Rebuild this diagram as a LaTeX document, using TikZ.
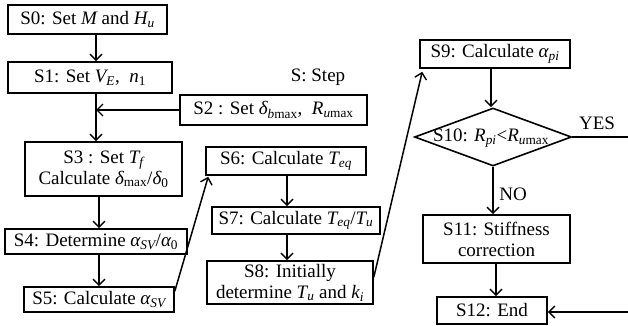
\documentclass[tikz,border=0pt]{standalone}
\usepackage{fontspec}
\setmainfont{Liberation Serif}
\newfontfamily\timesf{Liberation Serif}
\usetikzlibrary{arrows.meta,shapes.geometric,calc}
\newcommand\mysb[1]{\textsubscript{\itshape #1}}
\newcommand\myit[1]{{\itshape #1}}
\begin{document}
\begin{tikzpicture}[x=1pt,y=-1pt,
  box/.style={draw, line width=1.6pt, inner sep=1pt, align=center,
    font=\timesf\fontsize{19}{21}\selectfont},
  lbl/.style={inner sep=0pt, font=\timesf\fontsize{19}{21}\selectfont},
  arr/.style={line width=1.5pt, -{Straight Barb[length=6pt,width=12pt,line width=1.4pt]}},
  ln/.style={line width=1.5pt}]
\useasboundingbox (0,0) rectangle (628,326);
% nodes
\node[box, minimum width=159pt, minimum height=29pt] (s0) at (87.5,19.5) {S0: Set \myit{M} and \myit{H}\mysb{u}};
\node[box, minimum width=164pt, minimum height=31pt] (s1) at (90,77.5) {S1: Set \myit{V}\mysb{E},\ \ \myit{n}\textsubscript{1}};
\node[box, minimum width=187pt, minimum height=30pt] (s2) at (273.5,110) {S2 : Set \myit{δ}\textsubscript{\itshape b\upshape max},\ \ \myit{R}\textsubscript{\itshape u\upshape max}};
\node[box, minimum width=157pt, minimum height=54pt] (s3) at (103.5,169) {S3 : Set \myit{T}\mysb{f}\\Calculate \myit{δ}\textsubscript{max}/\myit{δ}\textsubscript{0}};
\node[box, minimum width=182pt, minimum height=25pt] (s4) at (96,241.5) {S4: Determine \myit{α}\mysb{SV}/\myit{α}\textsubscript{0}};
\node[box, minimum width=150pt, minimum height=25pt] (s5) at (99,299.5) {S5: Calculate \myit{α}\mysb{SV}};
\node[box, minimum width=160pt, minimum height=28pt] (s6) at (286,161) {S6: Calculate \myit{T}\mysb{eq}};
\node[box, minimum width=168pt, minimum height=27pt] (s7) at (296,220.5) {S7: Calculate \myit{T}\mysb{eq}/\myit{T}\mysb{u}};
\node[box, minimum width=166pt, minimum height=43pt] (s8) at (290,282.5) {S8: Initially\\determine \myit{T}\mysb{u} and \myit{k}\mysb{i}};
\node[box, minimum width=150pt, minimum height=28pt] (s9) at (495,54) {S9: Calculate \myit{α}\mysb{pi}};
\node[diamond, draw, line width=1.6pt, inner sep=0pt, minimum width=157pt, minimum height=58pt] (s10) at (493,137) {};
\node[lbl] (s10t) at (491,138) {S10: \myit{R}\mysb{pi}<\myit{R}\textsubscript{\itshape u\upshape max}};
\node[box, minimum width=147pt, minimum height=48pt] (s11) at (496.5,239) {S11: Stiffness\\correction};
\node[box, minimum width=110pt, minimum height=27pt] (s12) at (492,310.5) {S12: End};
\node[lbl] (key) at (318,77) {S: Step};
\node[lbl] (yes) at (597,123) {YES};
\node[lbl] (no) at (513,194) {NO};
\coordinate (j1) at (96,110);
\coordinate (r1) at (640,137);
\coordinate (r2) at (640,312);
% connectors
\draw[arr] (s0.south -| 96,0) -- (s1.north -| 96,0);
\draw[arr] (s1.south -| 96,0) -- (s3.north -| 96,0);
\draw[arr] (s2.west) -- (j1);
\draw[arr] (s3.south -| 99,0) -- (s4.north -| 99,0);
\draw[arr] (s4.south -| 99,0) -- (s5.north -| 99,0);
\draw[arr] ($(s5.north east)+(0,5)$) -- ($(s6.south west)+(3,1)$);
\draw[arr] (s6.south -| 287,0) -- (s7.north -| 287,0);
\draw[arr] (s7.south -| 287,0) -- (s8.north -| 287,0);
\draw[arr] ($(s8.north east)+(0,17)$) -- ($(s9.south west)+(3,3)$);
\draw[arr] (s9.south -| 491,0) -- (s10.north -| 491,0);
\draw[arr] (s10.south -| 493,0) -- (s11.north -| 493,0);
\draw[arr] (s11.south -| 496,0) -- (s12.north -| 496,0);
\draw[ln] (s10.east) -- (r1) -- (r2);
\draw[arr] (r2) -- (s12.east |- r2);
\end{tikzpicture}
\end{document}
